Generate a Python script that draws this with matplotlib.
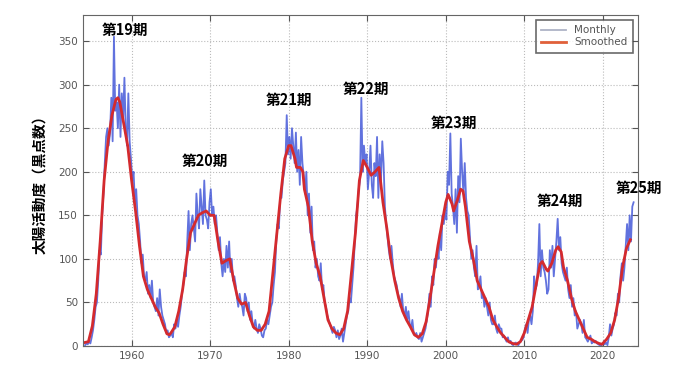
import numpy as np
import matplotlib
matplotlib.use("Agg")
import matplotlib.pyplot as plt

# bimonthly sunspot numbers, one row per year (1954-2023)
monthly = [
    1, 3, 2, 5, 3, 10,
    18, 30, 45, 50, 75, 110,
    105, 150, 175, 210, 240, 250,
    230, 245, 285, 235, 355, 270,
    280, 250, 300, 240, 290, 260,
    308, 250, 230, 290, 235, 215,
    190, 200, 165, 180, 150, 140,
    120, 95, 105, 80, 75, 85,
    60, 70, 55, 75, 50, 45,
    40, 55, 35, 65, 45, 35,
    30, 25, 15, 18, 10, 12,
    15, 10, 25, 20, 30, 22,
    35, 45, 60, 70, 85, 80,
    120, 155, 110, 140, 150, 135,
    120, 175, 150, 135, 180, 160,
    140, 190, 150, 145, 135, 165,
    180, 150, 160, 140, 150, 130,
    110, 125, 95, 80, 100, 85,
    115, 90, 120, 85, 100, 75,
    80, 70, 55, 45, 60, 50,
    45, 35, 60, 55, 40, 50,
    30, 40, 25, 20, 30, 20,
    15, 25, 20, 12, 10, 18,
    20, 30, 25, 35, 45, 50,
    70, 85, 120, 140, 135, 170,
    170, 190, 200, 210, 265, 220,
    240, 215, 250, 230, 210, 245,
    200, 225, 185, 240, 210, 195,
    175, 200, 150, 175, 130, 160,
    110, 120, 90, 100, 80, 75,
    95, 65, 70, 50, 45, 35,
    30, 25, 20, 15, 22, 18,
    10, 18, 8, 12, 20, 5,
    15, 25, 35, 40, 55, 50,
    70, 90, 120, 150, 160, 180,
    190, 285, 200, 230, 210, 220,
    180, 200, 230, 185, 170, 210,
    195, 240, 170, 220, 190, 235,
    210, 160, 140, 125, 110, 100,
    115, 95, 80, 75, 70, 60,
    55, 45, 60, 40, 35, 45,
    30, 40, 25, 20, 30, 15,
    12, 15, 10, 8, 15, 5,
    10, 15, 20, 30, 40, 60,
    45, 80, 70, 100, 90, 110,
    100, 130, 110, 150, 140, 160,
    145, 200, 185, 244, 175, 160,
    140, 180, 130, 195, 165, 238,
    200, 175, 210, 170, 155, 150,
    125, 100, 110, 90, 80, 115,
    65, 70, 80, 55, 60, 45,
    55, 45, 35, 50, 30, 25,
    25, 35, 20, 15, 25, 20,
    20, 10, 12, 8, 5, 10,
    4, 6, 2, 1, 3, 4,
    2, 1, 4, 6, 7, 10,
    20, 25, 15, 30, 35, 25,
    40, 80, 65, 70, 95, 140,
    80, 110, 90, 85, 75, 60,
    65, 110, 90, 115, 80, 100,
    120, 146, 110, 125, 95, 85,
    80, 75, 90, 65, 55, 70,
    45, 55, 35, 40, 20, 25,
    30, 25, 15, 30, 10, 8,
    5, 8, 12, 3, 5, 4,
    6, 3, 2, 1, 0, 2,
    3, 2, 4, 1, 10, 25,
    12, 20, 25, 38, 35, 60,
    50, 80, 95, 75, 90, 115,
    140, 110, 150, 120, 160, 165,
]
start_year = 1954

smooth_t = [
    1954.0, 1954.5, 1955.0, 1955.5, 1956.0, 1956.5, 1957.0, 1957.5, 1958.0,
    1958.25, 1958.5, 1959.0, 1959.5, 1960.0, 1960.5, 1961.0, 1961.5, 1962.0,
    1962.5, 1963.0, 1963.5, 1964.0, 1964.5, 1964.8, 1965.0, 1965.5, 1966.0,
    1966.5, 1967.0, 1967.5, 1968.0, 1968.5, 1969.0, 1969.5, 1970.0, 1970.5,
    1971.0, 1971.5, 1972.0, 1972.5, 1973.0, 1973.5, 1974.0, 1974.5, 1975.0,
    1975.5, 1976.0, 1976.5, 1977.0, 1977.5, 1978.0, 1978.5, 1979.0, 1979.5,
    1980.0, 1980.3, 1980.8, 1981.0, 1981.5, 1981.8, 1982.0, 1982.5, 1983.0,
    1983.5, 1984.0, 1984.5, 1985.0, 1985.5, 1986.0, 1986.5, 1987.0, 1987.5,
    1988.0, 1988.5, 1989.0, 1989.5, 1990.0, 1990.5, 1991.0, 1991.5, 1992.0,
    1992.5, 1993.0, 1993.5, 1994.0, 1994.5, 1995.0, 1995.5, 1996.0, 1996.5,
    1997.0, 1997.5, 1998.0, 1998.5, 1999.0, 1999.5, 2000.0, 2000.3, 2000.8,
    2001.0, 2001.5, 2001.9, 2002.2, 2002.5, 2003.0, 2003.5, 2004.0, 2004.5,
    2005.0, 2005.5, 2006.0, 2006.5, 2007.0, 2007.5, 2008.0, 2008.5, 2009.0,
    2009.5, 2010.0, 2010.5, 2011.0, 2011.5, 2012.0, 2012.3, 2012.8, 2013.0,
    2013.5, 2014.0, 2014.3, 2014.7, 2015.0, 2015.5, 2016.0, 2016.5, 2017.0,
    2017.5, 2018.0, 2018.5, 2019.0, 2019.5, 2019.9, 2020.5, 2021.0, 2021.5,
    2022.0, 2022.5, 2023.0, 2023.5,
]
smooth_v = [
    4, 5, 23, 60, 120, 190, 235, 265, 283,
    285, 280, 255, 230, 190, 155, 115, 80, 65,
    55, 45, 38, 25, 14, 13, 15, 22, 40,
    65, 100, 130, 140, 150, 153, 155, 150, 150,
    120, 95, 98, 100, 75, 55, 48, 50, 35,
    22, 18, 18, 25, 40, 85, 130, 175, 215,
    230, 230, 215, 205, 205, 200, 180, 160, 120,
    95, 80, 55, 30, 20, 15, 13, 20, 40,
    85, 130, 190, 213, 205, 196, 200, 205, 165,
    135, 100, 75, 55, 40, 30, 22, 13, 10,
    14, 28, 55, 85, 115, 140, 165, 174, 163,
    155, 168, 180, 178, 160, 120, 100, 75, 65,
    55, 45, 30, 22, 15, 10, 5, 3, 2,
    5, 15, 30, 45, 70, 94, 97, 88, 86,
    95, 110, 114, 108, 90, 75, 55, 40, 30,
    20, 10, 8, 5, 3, 2, 8, 15, 30,
    55, 90, 112, 122,
]

cycle_names = ["第19期", "第20期", "第21期", "第22期", "第23期", "第24期", "第25期"]
cycle_x = [1959.2, 1969.3, 1980.0, 1989.8, 2001.1, 2014.5, 2024.6]
cycle_y = [363, 212, 283, 295, 256, 166, 181]

t_monthly = start_year + (np.arange(len(monthly)) + 0.5) / 6.0

jp = ["Noto Sans CJK JP", "DejaVu Sans"]

fig = plt.figure(figsize=(6.91, 3.65), dpi=100)
ax = fig.add_axes([0.120, 0.052, 0.803, 0.907])

ax.plot(t_monthly, monthly, color="#3a4fd6", lw=1.3, alpha=0.8, label="Monthly")
ax.plot(smooth_t, smooth_v, color="#d42a2e", lw=2.0, label="Smoothed")

for name, x, y in zip(cycle_names, cycle_x, cycle_y):
    ax.text(x, y, name, family=jp, fontweight="bold", fontsize=10.5,
            ha="center", va="center", clip_on=False)

ax.set_xlim(1953.8, 2024.45)
ax.set_ylim(0, 380)
ax.set_xticks(range(1960, 2021, 10))
ax.set_yticks(range(0, 351, 50))
ax.tick_params(direction="in", top=True, right=True, labelsize=7.5,
               labelcolor="#555555", color="#555555", length=4)
ax.grid(True, linestyle=":", color="#bbbbbb", lw=0.8)
for s in ax.spines.values():
    s.set_color("#666666")

ax.set_ylabel("太陽活動度（黒点数）", family=jp, fontweight="bold", fontsize=10.5,
              labelpad=8)

leg = ax.legend(loc="upper right", fontsize=7.5, frameon=True, fancybox=False,
                borderpad=0.5, handlelength=2.4, labelspacing=0.2)
leg.get_frame().set_edgecolor("#444444")
leg.get_frame().set_linewidth(1.2)
leg.get_lines()[0].set_color("#9aa0b8")
leg.get_lines()[1].set_color("#e0603a")
for txt in leg.get_texts():
    txt.set_color("#555555")

fig.savefig("out.png", dpi=100)
